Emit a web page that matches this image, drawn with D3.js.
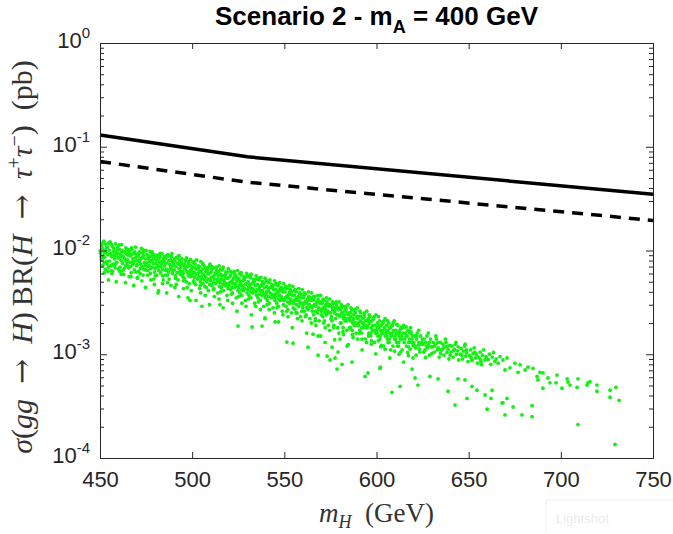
<!DOCTYPE html>
<html>
<head>
<meta charset="utf-8">
<script src="https://cdn.jsdelivr.net/npm/d3@7"></script>
<style>
  body { margin: 0; background: #fff; }
  svg { display: block; }
</style>
</head>
<body>
<div id="chart"></div>
<script>
// limit curves (pb)
const limitMass = [450, 530, 750];
const limitSolid = [0.130, 0.080, 0.0348];
const limitDashed = [0.0721, 0.0455, 0.0195];

const xTicks = [450, 500, 550, 600, 650, 700, 750];
const yDecades = [-4, -3, -2, -1, 0];

// scan points: [m_H (GeV), sigma*BR (pb)]
const scanPoints = [
[450.3,.0094],[450.7,.0081],[451.0,.0112],[451.5,.0072],[451.8,.0089],[452.1,.0123],[452.6,.0086],[452.9,.0066],[453.2,.0101],[453.6,.0078],[454.0,.0108],[454.3,.0091],[454.7,.0069],[450.1,.0099],[451.2,.0083],[452.4,.0096],[453.9,.0074],[454.5,.0118],
[455.1,.0079],[455.4,.0121],[455.8,.0093],[456.1,.0064],[456.4,.0087],[456.8,.0109],[457.0,.0074],[457.5,.0098],[457.9,.0083],[458.2,.0068],[458.4,.0116],[458.8,.0090],[459.1,.0077],[459.3,.0101],[459.8,.0085],[456.5,.0060],[457.7,.0072],[459.6,.0094],
[460.2,.0085],[460.4,.0103],[460.9,.0069],[461.1,.0092],[461.5,.0080],[461.7,.0114],[462.2,.0075],[462.5,.0088],[462.8,.0059],[463.3,.0097],[463.5,.0082],[463.9,.0071],[464.0,.0106],[464.4,.0078],[464.9,.0091],[460.7,.0063],[462.0,.0099],[463.1,.0067],
[465.0,.0081],[465.5,.0068],[465.7,.0097],[466.2,.0077],[466.5,.0089],[466.9,.0061],[467.2,.0102],[467.6,.0073],[467.9,.0084],[468.3,.0093],[468.6,.0065],[469.0,.0079],[469.3,.0108],[469.8,.0071],[465.3,.0091],[466.8,.0056],[468.0,.0075],[469.5,.0086],
[470.1,.0073],[470.5,.0088],[470.8,.0063],[471.2,.0095],[471.4,.0078],[471.9,.0067],[472.3,.0084],[472.5,.0105],[472.9,.0070],[473.4,.0058],[473.6,.0090],[474.0,.0076],[474.3,.0099],[474.8,.0065],[470.3,.0054],[471.6,.0082],[473.0,.0086],[474.5,.0072],
[475.3,.0076],[475.5,.0091],[476.0,.0064],[476.2,.0083],[476.6,.0072],[477.1,.0098],[477.3,.0060],[477.7,.0080],[478.2,.0069],[478.4,.0088],[478.8,.0075],[479.1,.0053],[479.4,.0085],[479.8,.0067],[475.8,.0070],[476.9,.0078],[478.0,.0094],[479.6,.0062],
[480.1,.0068],[480.5,.0081],[480.8,.0058],[481.0,.0090],[481.4,.0072],[481.9,.0064],[482.2,.0077],[482.5,.0086],[482.9,.0061],[483.3,.0074],[483.6,.0093],[484.0,.0066],[484.3,.0052],[484.7,.0079],[480.3,.0075],[481.6,.0083],[483.0,.0070],[484.9,.0087],
[485.1,.0071],[485.4,.0058],[485.8,.0084],[486.1,.0066],[486.4,.0076],[486.9,.0091],[487.2,.0062],[487.5,.0053],[487.9,.0073],[488.2,.0081],[488.6,.0068],[488.8,.0087],[489.3,.0060],[489.7,.0075],[485.6,.0064],[486.7,.0049],[488.4,.0070],[489.9,.0079],
[490.3,.0065],[490.5,.0079],[490.9,.0057],[491.2,.0070],[491.6,.0084],[491.8,.0061],[492.3,.0052],[492.5,.0074],[492.9,.0067],[493.2,.0081],[493.6,.0059],[493.8,.0069],[494.3,.0077],[494.7,.0063],[490.1,.0072],[491.4,.0047],[493.0,.0088],[494.9,.0056],
[495.1,.0060],[495.5,.0072],[495.7,.0054],[496.2,.0066],[496.4,.0079],[496.8,.0050],[497.1,.0063],[497.5,.0070],[497.9,.0057],[498.2,.0075],[498.4,.0048],[498.9,.0064],[499.1,.0082],[499.5,.0059],[495.9,.0068],[497.3,.0044],[498.6,.0061],[499.8,.0071],
[500.1,.0057],[500.4,.0069],[500.8,.0051],[501.1,.0062],[501.6,.0074],[501.9,.0047],[502.2,.0059],[502.6,.0066],[502.9,.0053],[503.3,.0071],[503.5,.0056],[504.0,.0043],[504.2,.0063],[504.7,.0078],[500.6,.0061],[501.4,.0055],[503.0,.0067],[504.5,.0050],
[505.1,.0054],[505.5,.0066],[505.8,.0048],[506.1,.0059],[506.5,.0071],[506.9,.0045],[507.3,.0056],[507.5,.0063],[507.9,.0050],[508.3,.0068],[508.6,.0053],[508.8,.0041],[509.2,.0060],[509.7,.0074],[505.3,.0057],[506.7,.0052],[508.0,.0064],[509.5,.0047],
[510.1,.0051],[510.5,.0062],[510.7,.0046],[511.2,.0056],[511.4,.0068],[511.8,.0043],[512.1,.0053],[512.6,.0060],[512.8,.0048],[513.2,.0065],[513.6,.0050],[513.9,.0039],[514.1,.0057],[514.6,.0071],[510.3,.0055],[511.6,.0049],[513.0,.0061],[514.8,.0045],
[515.2,.0049],[515.5,.0059],[515.8,.0044],[516.2,.0053],[516.5,.0065],[516.9,.0041],[517.2,.0051],[517.6,.0057],[518.0,.0046],[518.3,.0062],[518.5,.0048],[518.9,.0037],[519.3,.0054],[519.7,.0067],[515.0,.0052],[516.7,.0047],[517.9,.0058],[519.5,.0043],
[520.1,.0046],[520.5,.0056],[520.9,.0042],[521.2,.0050],[521.5,.0061],[521.9,.0039],[522.2,.0048],[522.5,.0054],[522.9,.0044],[523.3,.0059],[523.7,.0045],[523.9,.0035],[524.3,.0051],[524.6,.0064],[520.3,.0049],[521.7,.0044],[523.0,.0055],[524.8,.0041],
[525.1,.0044],[525.4,.0053],[525.9,.0039],[526.1,.0048],[526.5,.0058],[526.8,.0037],[527.3,.0046],[527.5,.0051],[527.9,.0041],[528.2,.0056],[528.6,.0043],[528.9,.0033],[529.3,.0048],[529.6,.0060],[525.7,.0046],[526.9,.0042],[528.0,.0052],[529.8,.0039],
[530.2,.0042],[530.4,.0050],[530.8,.0037],[531.1,.0045],[531.5,.0055],[531.9,.0035],[532.2,.0043],[532.6,.0048],[532.8,.0039],[533.2,.0053],[533.5,.0041],[533.9,.0031],[534.3,.0046],[534.7,.0057],[530.6,.0044],[531.7,.0040],[533.0,.0049],[534.9,.0037],
[535.1,.0040],[535.5,.0047],[535.7,.0035],[536.2,.0043],[536.4,.0052],[536.9,.0033],[537.1,.0041],[537.5,.0046],[537.9,.0037],[538.2,.0050],[538.4,.0039],[538.8,.0029],[539.2,.0044],[539.6,.0054],[535.3,.0042],[536.7,.0038],[538.0,.0047],[539.8,.0035],
[540.1,.0038],[540.5,.0045],[540.8,.0033],[541.2,.0041],[541.6,.0049],[541.8,.0031],[542.3,.0039],[542.5,.0044],[542.9,.0035],[543.3,.0047],[543.6,.0037],[543.9,.0028],[544.2,.0042],[544.7,.0051],[540.3,.0040],[541.4,.0036],[543.0,.0045],[544.9,.0033],
[545.2,.0036],[545.5,.0042],[545.9,.0031],[546.1,.0039],[546.5,.0046],[546.8,.0029],[547.2,.0037],[547.6,.0042],[547.9,.0033],[548.3,.0044],[548.5,.0035],[548.9,.0026],[549.3,.0040],[549.7,.0048],[545.0,.0038],[546.7,.0034],[548.1,.0041],[549.5,.0030],
[550.1,.0034],[550.4,.0040],[550.9,.0029],[551.1,.0036],[551.5,.0043],[551.9,.0027],[552.2,.0035],[552.6,.0039],[552.8,.0031],[553.2,.0042],[553.6,.0033],[553.9,.0025],[554.3,.0037],[554.6,.0045],[550.6,.0035],[551.7,.0032],[553.0,.0038],[554.8,.0028],
[555.1,.0032],[555.5,.0037],[555.7,.0027],[556.2,.0034],[556.4,.0040],[556.9,.0025],[557.3,.0033],[557.5,.0036],[557.9,.0029],[558.2,.0039],[558.6,.0031],[558.8,.0023],[559.2,.0035],[559.7,.0042],[555.3,.0033],[556.6,.0030],[558.0,.0036],[559.5,.0026],
[560.2,.0030],[560.5,.0035],[560.8,.0026],[561.2,.0032],[561.5,.0038],[561.9,.0024],[562.2,.0031],[562.6,.0034],[562.9,.0027],[563.3,.0036],[563.6,.0029],[563.9,.0022],[564.3,.0033],[564.7,.0039],[560.4,.0031],[562.0,.0028],
[565.1,.0028],[565.5,.0033],[565.8,.0024],[566.2,.0030],[566.5,.0036],[566.9,.0022],[567.2,.0029],[567.6,.0032],[567.9,.0025],[568.3,.0034],[568.6,.0027],[568.9,.0021],[569.3,.0031],[569.7,.0037],[565.3,.0029],[567.0,.0026],
[570.2,.0026],[570.5,.0031],[570.9,.0023],[571.1,.0028],[571.6,.0033],[571.8,.0021],[572.3,.0027],[572.5,.0030],[572.9,.0024],[573.2,.0032],[573.6,.0025],[573.9,.0019],[574.3,.0029],[574.6,.0034],[570.4,.0027],[572.0,.0025],
[575.1,.0025],[575.4,.0029],[575.9,.0021],[576.1,.0027],[576.5,.0031],[576.9,.0019],[577.2,.0025],[577.6,.0028],[577.8,.0022],[578.3,.0030],[578.5,.0024],[578.9,.0018],[579.2,.0027],[579.7,.0032],[575.6,.0023],[577.0,.0026],
[580.1,.0023],[580.5,.0027],[580.8,.0020],[581.2,.0025],[581.5,.0029],[581.9,.0018],[582.2,.0023],[582.6,.0026],[582.9,.0021],[583.3,.0028],[583.6,.0022],[583.9,.0017],[584.3,.0025],[584.6,.0030],[580.3,.0024],[582.0,.0022],
[585.2,.0022],[585.5,.0025],[585.9,.0018],[586.1,.0023],[586.5,.0027],[586.8,.0017],[587.2,.0021],[587.6,.0024],[587.9,.0019],[588.2,.0026],[588.5,.0020],[588.9,.0016],[589.3,.0023],[589.6,.0028],[585.7,.0021],[587.0,.0020],
[590.1,.0020],[590.5,.0023],[590.9,.0017],[591.2,.0021],[591.5,.0025],[591.9,.0016],[592.2,.0020],[592.6,.0022],[592.8,.0018],[593.3,.0024],[593.6,.0019],[593.9,.0014],[594.2,.0021],[594.7,.0026],[590.3,.0019],[592.0,.0018],
[595.2,.0019],[595.5,.0022],[595.8,.0016],[596.2,.0020],[596.5,.0023],[596.9,.0015],[597.2,.0018],[597.6,.0021],[597.9,.0017],[598.3,.0022],[598.6,.0017],[598.9,.0013],[599.3,.0019],[599.7,.0024],[595.0,.0018],[597.0,.0016],
[600.1,.0017],[600.5,.0020],[600.8,.0015],[601.2,.0018],[601.6,.0021],[601.9,.0014],[602.2,.0017],[602.6,.0019],[602.9,.0016],[603.2,.0020],[603.6,.0016],[603.9,.0012],[604.3,.0018],[604.7,.0022],[600.3,.0016],[602.0,.0015],
[605.2,.0016],[605.5,.0019],[605.9,.0014],[606.1,.0017],[606.6,.0020],[606.8,.0013],[607.2,.0016],[607.5,.0018],[607.9,.0015],[608.3,.0019],[608.5,.0015],[608.9,.0012],[609.3,.0017],[609.6,.0021],[605.7,.0015],[607.0,.0014],
[610.1,.0015],[610.5,.0017],[610.9,.0013],[611.2,.0016],[611.5,.0019],[611.9,.0012],[612.2,.0015],[612.6,.0017],[612.9,.0014],[613.3,.0018],[613.6,.0014],[613.9,.0011],[614.3,.0016],[614.7,.0019],[610.3,.0014],[612.0,.0013],
[615.3,.0014],[615.8,.0016],[616.2,.0012],[616.6,.0015],[617.1,.0017],[617.5,.0013],[617.9,.0014],[618.3,.00112],[618.7,.0016],[619.1,.0013],[619.5,.0015],[619.9,.00122],[616.9,.00104],[618.5,.0018],
[620.3,.0013],[620.8,.0015],[621.2,.00115],[621.7,.0014],[622.1,.0016],[622.6,.00122],[623.0,.0013],[623.5,.00105],[623.9,.0015],[624.3,.00125],[624.8,.0014],[621.5,.00098],[622.9,.0017],
[625.3,.00125],[625.8,.0014],[626.3,.0011],[626.8,.0013],[627.3,.0015],[627.8,.00115],[628.3,.00122],[628.8,.00098],[629.3,.0014],[629.8,.00118],[626.6,.00093],[628.1,.0016],
[630.3,.00118],[630.8,.0013],[631.4,.00105],[631.9,.00124],[632.5,.0014],[633.0,.0011],[633.5,.00115],[634.0,.00094],[634.6,.0013],[635.0,.0011],[632.2,.0015],
[635.5,.0011],[636.0,.00125],[636.6,.00098],[637.1,.00118],[637.7,.0013],[638.2,.00104],[638.8,.00112],[639.3,.0009],[639.8,.00122],[637.4,.0014],
[640.4,.00105],[641.0,.0012],[641.6,.00094],[642.2,.00112],[642.8,.00125],[643.4,.001],[644.0,.00108],[644.6,.00088],[643.1,.0013],
[645.4,.001],[646.0,.00114],[646.6,.0009],[647.2,.00107],[647.8,.0012],[648.4,.00096],[649.0,.00103],[649.6,.00085],[648.1,.00125],
[650.5,.00097],[651.1,.0011],[651.8,.00087],[652.4,.00102],[653.0,.00115],[653.7,.00092],[654.3,.00099],[654.9,.00082],
[655.5,.00093],[656.2,.00105],[656.8,.00084],[657.5,.00098],[658.1,.0011],[658.8,.00088],[659.4,.00095],[657.0,.00079],
[660.6,.00089],[661.3,.001],[662.0,.0008],[662.8,.00094],[663.5,.00104],[664.2,.00085],[664.9,.0009],[666.0,.00082],[667.0,.00095],
[668.6,.00088],[670.8,.00092],[669.7,.000705],[672.4,.00074],[675.1,.00082],[676.8,.00067],[677.9,.00079],[680.6,.000705],[682.2,.00075],[684.9,.00073],
[687.1,.00061],[688.7,.00067],[690.3,.00066],[687.6,.000565],[693.0,.00059],[690.3,.00047],[694.1,.00053],[697.9,.00063],[697.4,.00053],[700.6,.00047],
[703.4,.00058],[703.9,.00054],[705.0,.000505],[708.8,.00048],[709.3,.00058],[714.2,.000505],[714.7,.00053],[715.8,.000545],[719.6,.000505],[719.6,.00044],
[726.7,.00045],[729.9,.00048],[726.7,.000385],[731.6,.00036],
// more points inside the band
[450.6,.0087],[451.4,.0104],[452.3,.0076],[453.0,.0115],[453.8,.0093],[454.2,.0063],[455.0,.0101],[455.9,.0071],[456.3,.0114],[457.2,.0089],
[458.0,.0096],[458.6,.0075],[459.5,.0108],[460.1,.0066],[461.0,.0087],[461.8,.0097],[462.4,.0064],[463.2,.0084],[464.2,.0093],[464.7,.0073],
[465.6,.0102],[466.4,.0070],[467.0,.0092],[467.8,.0079],[468.8,.0097],[469.4,.0062],[470.0,.0080],[470.9,.0091],[471.7,.0060],[472.1,.0074],
[473.2,.0095],[473.8,.0066],[474.6,.0083],[475.0,.0100],[475.9,.0058],[476.8,.0087],[477.5,.0067],[478.6,.0081],[479.3,.0091],[480.0,.0057],
[480.7,.0088],[481.7,.0069],[482.3,.0091],[483.2,.0078],[483.9,.0057],[484.5,.0083],[485.3,.0075],[486.2,.0089],[486.6,.0058],[487.4,.0080],
[488.0,.0066],[489.0,.0093],[489.5,.0064],[490.4,.0083],[491.0,.0054],[491.9,.0076],[492.7,.0089],[493.4,.0063],[494.0,.0072],[494.5,.0083],
[495.3,.0051],[496.0,.0074],[496.9,.0085],[497.6,.0061],[498.0,.0078],[499.0,.0056],[499.7,.0066],[500.3,.0077],[501.0,.0049],[501.8,.0068],
[502.4,.0081],[503.2,.0060],[503.9,.0070],[504.4,.0046],[505.0,.0062],[505.7,.0075],[506.4,.0053],[507.1,.0068],[507.7,.0044],[508.5,.0060],
[509.4,.0071],[509.9,.0052],[510.6,.0066],[511.5,.0042],[512.3,.0058],[513.0,.0069],[513.8,.0053],[514.4,.0063],[515.4,.0040],[516.0,.0057],
[516.8,.0069],[517.7,.0049],[518.2,.0054],[519.0,.0062],[519.8,.0046],[520.7,.0058],[521.3,.0038],[522.1,.0052],[522.8,.0063],[523.6,.0048],
[524.4,.0055],[525.3,.0036],[526.0,.0050],[526.6,.0061],[527.7,.0044],[528.4,.0053],[529.1,.0047],[529.9,.0056],[530.5,.0034],[531.3,.0047],
[532.0,.0059],[532.9,.0043],[533.7,.0050],[534.4,.0040],[535.0,.0053],[535.9,.0032],[536.6,.0045],[537.3,.0055],[538.1,.0041],[538.7,.0048],
[539.4,.0037],[540.0,.0050],[540.7,.0030],[541.5,.0043],[542.2,.0052],[543.2,.0038],[543.8,.0044],[544.5,.0035],[545.3,.0047],[546.0,.0028],
[546.9,.0040],[547.5,.0049],[548.4,.0036],[549.1,.0042],[549.8,.0033],[550.5,.0044],[551.3,.0026],[552.0,.0037],[552.7,.0046],[553.4,.0034],
[554.0,.0040],[554.9,.0031],[555.6,.0041],[556.3,.0025],[557.1,.0035],[557.8,.0043],[558.5,.0032],[559.1,.0038],[559.9,.0028],[560.7,.0037],
[561.4,.0023],[562.4,.0033],[563.0,.0040],[563.8,.0030],[564.5,.0035],[565.2,.0026],[566.0,.0034],[566.7,.0021],[567.5,.0031],[568.1,.0037],
[568.8,.0028],[569.5,.0032],[570.0,.0024],[570.7,.0032],[571.4,.0020],[572.2,.0029],[572.9,.0035],[573.7,.0026],[574.5,.0030],[575.3,.0022],
[576.0,.0029],[576.7,.0018],[577.4,.0026],[578.1,.0032],[578.8,.0024],[579.5,.0028],[580.4,.0020],[581.0,.0028],[581.8,.00165],[582.5,.0024],
[583.2,.0029],[583.8,.0021],[584.5,.0024],[585.4,.0018],[586.0,.0025],[586.9,.00155],[587.5,.0022],[588.3,.0027],[589.0,.0019],[589.8,.0022],
[590.7,.0016],[591.4,.0023],[592.1,.0014],[592.9,.0020],[593.5,.0025],[594.4,.0018],[595.1,.0021],[595.7,.0015],[596.4,.0021],[597.3,.00135],
[598.0,.0019],[598.7,.0023],[599.5,.0016],[600.4,.0018],[601.0,.00135],[601.8,.0019],[602.7,.00122],[603.4,.0017],[604.0,.0021],[604.8,.0015],
[605.4,.0017],[606.3,.0013],[607.1,.0018],[607.7,.0011],[608.6,.0016],[609.1,.0020],[609.8,.0014],[610.6,.0016],[611.4,.0012],[612.3,.0016],
[613.1,.00105],[613.8,.0015],[614.5,.0018],[615.1,.0013],[616.0,.0015],[617.3,.00118],[618.0,.0016],[619.3,.0014],[620.6,.0012],[621.9,.0015],
[623.3,.00112],[624.6,.0013],[625.6,.00105],[627.1,.0012],[628.6,.0013],[630.1,.00102],[631.6,.0012],[633.3,.0013],[634.8,.00102],[636.3,.00115],
[638.5,.0012],[640.0,.00098],[641.9,.00108],[644.3,.00118],[646.3,.00098],[648.8,.0011],[651.4,.00092],[653.4,.00104],[656.5,.00088],[659.8,.0009],
// upper fringe of the band
[451.1,.0117],[453.4,.0106],[455.6,.0119],[457.6,.0104],[460.3,.0113],[462.6,.0098],[464.6,.0102],[467.1,.0106],[469.1,.0093],[471.5,.0097],
[473.5,.0101],[476.4,.0088],[478.3,.0097],[480.6,.0085],[482.7,.0094],[485.0,.0082],[487.3,.0089],[489.4,.0078],[491.5,.0086],[494.1,.0076],
[496.5,.0081],[498.3,.0072],[500.9,.0078],[503.4,.0068],[505.9,.0073],[508.2,.0065],[510.8,.0070],[513.4,.0062],[515.6,.0066],[518.1,.0059],
[520.7,.0063],[523.1,.0056],[525.8,.0060],[528.0,.0053],[530.9,.0057],[533.3,.0050],[535.8,.0054],[538.3,.0048],[540.6,.0051],[543.4,.0045],
[545.7,.0048],[548.0,.0043],[550.8,.0045],[553.1,.0040],[555.9,.0042],[558.4,.0037],[560.9,.0039],[563.4,.0035],[565.9,.0036],[568.5,.0032],
[571.0,.0034],[573.4,.0030],[576.1,.0032],[578.4,.0028],[580.9,.0030],[583.5,.0027],[586.1,.0028],[588.6,.0025],[591.0,.0026],[593.4,.0023],
[596.0,.0024],[598.4,.0022],[601.1,.0023],[603.5,.0020],[606.0,.0021],[608.6,.0019],[611.0,.00195],[613.5,.00178],[616.1,.00183],[618.6,.00165],
// lower fringe of the band
[452.3,.0061],[454.6,.0052],[456.8,.0063],[458.8,.0050],[461.5,.0059],[463.8,.0049],[465.8,.0056],[468.3,.0046],[470.3,.0055],[472.7,.0051],
[474.7,.0044],[477.6,.0052],[479.5,.0047],[481.8,.0041],[483.9,.0048],[486.2,.0039],[488.5,.0046],[490.6,.0044],[492.7,.0036],[495.3,.0043],
[497.7,.0035],[499.5,.0041],[502.1,.0033],[504.6,.0039],[507.1,.0037],[509.4,.0030],[512.0,.0036],[514.6,.0034],[516.8,.0028],[519.3,.0033],
[521.9,.0031],[524.3,.0026],[527.0,.0031],[529.2,.0029],[532.1,.0024],[534.5,.0029],[537.0,.0027],[539.5,.0022],[541.8,.0027],[544.6,.0025],
[546.9,.00205],[549.2,.0024],[552.0,.0023],[554.3,.0018],[557.1,.0022],[559.6,.0021],[562.1,.0016],[564.6,.0020],[567.1,.0019],[569.7,.0015],
[572.2,.0018],[574.6,.0017],[577.3,.00138],[579.6,.0016],[582.1,.00155],[584.7,.00124],[587.3,.00145],[589.8,.0014],[592.2,.0011],[594.6,.0013],
[597.2,.00125],[599.6,.00101],[602.3,.00118],[604.7,.00112],[607.2,.00092],[609.8,.00107],[612.2,.001],[614.7,.00084],[617.3,.00097],[619.8,.00092],
// points below the main band
[481.5,.0039],[498.8,.0033],[505.3,.0029],[515.1,.0030],[524.9,.00187],[532.5,.00183],[537.9,.00187],[539.5,.00224],[545.0,.00205],
[551.4,.00131],[554.7,.00128],[562.8,.00117],[565.6,.00156],[568.3,.0015],[568.3,.00098],[572.1,.0013],[573.2,.00096],[574.8,.00088],
[575.9,.00117],[577.5,.00092],[579.1,.00105],[578.6,.00072],[580.2,.0014],[581.3,.0008],[584.0,.0012],[586.7,.00084],[593.8,.00061],
[595.4,.00066],[601.9,.00073],[602.1,.00075],[608.4,.00043],[612.8,.00049],[619.3,.00072],[620.9,.00059],[622.5,.000505],[629.0,.00061],
[633.4,.00058],[638.8,.00044],[642.6,.000324],[644.2,.00058],[648.0,.000565],[651.8,.00049],[654.5,.00045],[649.1,.000375],[658.9,.000405],
[662.7,.00045],[662.1,.000375],[668.1,.00034],[660.0,.000295],[668.6,.00034],[670.8,.000375],[674.1,.00031],[669.7,.00026],[678.9,.00026],
[684.4,.00032],[684.4,.00025],[709.3,.00021],[729.4,.000135]
];

const W = 673, H = 534;
const margin = { left: 100, right: 20, top: 43, bottom: 76 };

const svg = d3.select("#chart").append("svg")
  .attr("width", W)
  .attr("height", H);

const x = d3.scaleLinear().domain([450, 750]).range([margin.left, W - margin.right]);
const y = d3.scaleLog().domain([1e-4, 1]).range([H - margin.bottom, margin.top]);

const axisColor = "#262626";
const tickFont = "'Liberation Sans', Arial, sans-serif";

// minor ticks for log axis
const yMinor = [];
yDecades.slice(0, -1).forEach(function(k) {
  for (let j = 2; j <= 9; j++) yMinor.push(j * Math.pow(10, k));
});
const yMajor = yDecades.map(k => Math.pow(10, k));

// scan points
svg.append("g")
  .selectAll("circle")
  .data(scanPoints)
  .join("circle")
  .attr("cx", d => x(d[0]))
  .attr("cy", d => y(d[1]))
  .attr("r", 1.9)
  .attr("fill", "#14f014");

// limit lines
const line = d3.line()
  .x(d => x(d[0]))
  .y(d => y(d[1]));

svg.append("path")
  .datum(limitMass.map((m, i) => [m, limitSolid[i]]))
  .attr("d", line)
  .attr("fill", "none")
  .attr("stroke", "#000")
  .attr("stroke-width", 3.5);

svg.append("path")
  .datum(limitMass.map((m, i) => [m, limitDashed[i]]))
  .attr("d", line)
  .attr("fill", "none")
  .attr("stroke", "#000")
  .attr("stroke-width", 3.5)
  .attr("stroke-dasharray", "11,8");

// axes, ticks pointing inward
function styleAxis(g) {
  g.selectAll("path.domain").attr("stroke", axisColor);
  g.selectAll(".tick line").attr("stroke", axisColor);
}

const gx = svg.append("g")
  .attr("transform", "translate(0," + (H - margin.bottom) + ")")
  .call(d3.axisBottom(x).tickValues(xTicks).tickSizeInner(-6).tickSizeOuter(0).tickPadding(13))
  .call(styleAxis);
gx.selectAll("text")
  .attr("font-family", tickFont)
  .attr("font-size", 22)
  .attr("fill", axisColor);

svg.append("g")
  .attr("transform", "translate(0," + margin.top + ")")
  .call(d3.axisTop(x).tickValues(xTicks).tickSizeInner(-6).tickSizeOuter(0).tickFormat(""))
  .call(styleAxis);

const gy = svg.append("g")
  .attr("transform", "translate(" + margin.left + ",0)")
  .call(d3.axisLeft(y).tickValues(yMajor).tickSizeInner(-7).tickSizeOuter(0).tickPadding(10))
  .call(styleAxis);
gy.selectAll("text")
  .attr("font-family", tickFont)
  .attr("font-size", 22)
  .attr("fill", axisColor)
  .attr("dy", "0.2em")
  .text("")
  .each(function(d) {
    const t = d3.select(this);
    t.append("tspan").text("10");
    t.append("tspan").attr("font-size", 15).attr("dy", -10).text(Math.round(Math.log10(d)));
  });

svg.append("g")
  .attr("transform", "translate(" + margin.left + ",0)")
  .call(d3.axisLeft(y).tickValues(yMinor).tickSizeInner(-4).tickSizeOuter(0).tickFormat(""))
  .call(styleAxis);

svg.append("g")
  .attr("transform", "translate(" + (W - margin.right) + ",0)")
  .call(d3.axisRight(y).tickValues(yMajor).tickSizeInner(-7).tickSizeOuter(0).tickFormat(""))
  .call(styleAxis);

svg.append("g")
  .attr("transform", "translate(" + (W - margin.right) + ",0)")
  .call(d3.axisRight(y).tickValues(yMinor).tickSizeInner(-4).tickSizeOuter(0).tickFormat(""))
  .call(styleAxis);

// title
const title = svg.append("text")
  .attr("x", (margin.left + W - margin.right) / 2)
  .attr("y", 25)
  .attr("text-anchor", "middle")
  .attr("font-family", tickFont)
  .attr("font-weight", "bold")
  .attr("font-size", 26)
  .attr("fill", "#000");
title.append("tspan").text("Scenario 2 - m");
title.append("tspan").attr("font-size", 18).attr("dy", 8).text("A");
title.append("tspan").attr("dy", -8).text(" = 400 GeV");

// axis labels (LaTeX style)
const serif = "'Liberation Serif', 'Times New Roman', serif";
const arrowFont = "'DejaVu Serif', serif";
const labelColor = "#333";

const xl = svg.append("text")
  .attr("x", (margin.left + W - margin.right) / 2)
  .attr("y", 522)
  .attr("text-anchor", "middle")
  .attr("font-family", serif)
  .attr("font-size", 27)
  .attr("fill", labelColor);
xl.append("tspan").attr("font-style", "italic").text("m");
xl.append("tspan").attr("font-style", "italic").attr("font-size", 18).attr("dy", 6).text("H");
xl.append("tspan").attr("dy", -6).text("\u2002(GeV)");

const yl = svg.append("text")
  .attr("transform", "translate(32,257) rotate(-90)")
  .attr("text-anchor", "middle")
  .attr("font-family", serif)
  .attr("font-size", 30)
  .attr("fill", labelColor);
yl.append("tspan").attr("font-style", "italic").text("\u03c3");
yl.append("tspan").text("(");
yl.append("tspan").attr("font-style", "italic").text("gg");
yl.append("tspan").attr("font-family", arrowFont).text("\u2002\u2192\u2002");
yl.append("tspan").attr("font-style", "italic").text("H");
yl.append("tspan").text(")\u2009BR(");
yl.append("tspan").attr("font-style", "italic").text("H");
yl.append("tspan").attr("font-family", arrowFont).text("\u2002\u2192\u2002");
yl.append("tspan").attr("font-style", "italic").text("\u03c4");
yl.append("tspan").attr("font-size", 20).attr("dy", -11).text("+");
yl.append("tspan").attr("font-style", "italic").attr("dy", 11).text("\u03c4");
yl.append("tspan").attr("font-size", 20).attr("dy", -11).text("\u2212");
yl.append("tspan").attr("dy", 11).text(")\u2002(pb)");

// faint screenshot-tool watermark box, bottom right
svg.append("rect")
  .attr("x", 546).attr("y", 500)
  .attr("width", 130).attr("height", 36)
  .attr("fill", "#fff")
  .attr("stroke", "#f0f0f0");
svg.append("text")
  .attr("x", 556).attr("y", 523)
  .attr("font-family", tickFont)
  .attr("font-size", 13)
  .attr("fill", "#ececec")
  .text("Lightshot");
</script>
</body>
</html>
